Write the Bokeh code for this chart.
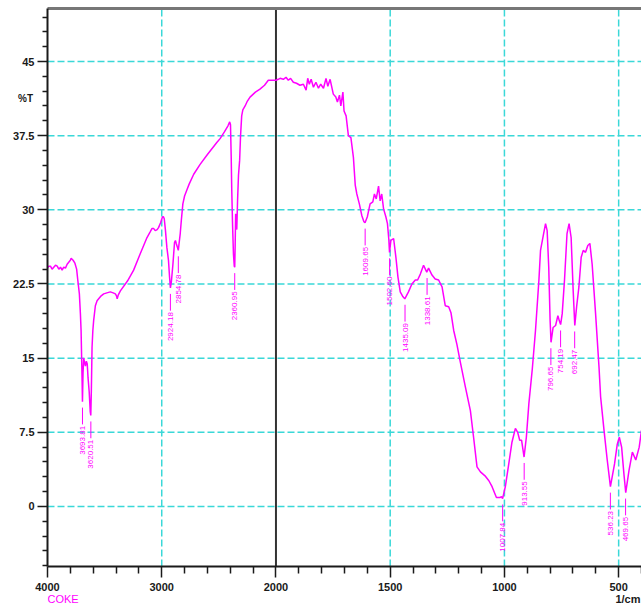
import numpy as np
from bokeh.plotting import figure
from bokeh.models import (FixedTicker, Range1d, ColumnDataSource, LinearAxis,
                          CustomJSTickFormatter)
from bokeh.core.properties import value
from bokeh.embed import file_html
from bokeh.resources import INLINE

# ---------------- data ----------------
wavenumber = [
    4000, 3988, 3974, 3960, 3945, 3930, 3915, 3901, 3886, 3872, 3858, 3843, 3828, 3814,
    3800, 3793, 3776, 3760, 3745, 3735, 3721, 3712, 3706, 3697, 3694, 3689, 3683, 3676,
    3668, 3660, 3652, 3645, 3635, 3626, 3621, 3616, 3610, 3603, 3596, 3581, 3566, 3552,
    3530, 3508, 3480, 3450, 3425, 3406, 3396, 3390, 3380, 3362, 3300, 3246, 3190, 3129,
    3100, 3086, 3070, 3057, 3040, 3028, 3010, 2993, 2985, 2978, 2968, 2955, 2941, 2932,
    2924, 2915, 2902, 2888, 2880, 2873, 2865, 2855, 2848, 2838, 2828, 2815, 2800, 2780,
    2760, 2720, 2664, 2600, 2518, 2489, 2450, 2420, 2405, 2398, 2392, 2387, 2380, 2372,
    2365, 2361, 2357, 2353, 2348, 2343, 2336, 2328, 2318, 2310, 2300, 2290, 2270, 2250,
    2227, 2180, 2140, 2100, 2067, 2024, 2000,
    1990, 1982, 1968, 1956, 1946, 1936, 1924, 1910, 1895, 1880, 1868, 1861, 1854, 1846,
    1836, 1825, 1814, 1804, 1792, 1781, 1773, 1763, 1749, 1738, 1731, 1722, 1716, 1707,
    1702, 1693, 1683, 1672, 1661, 1653, 1646, 1635, 1624, 1615, 1610, 1600, 1588, 1576,
    1569, 1561, 1551, 1544, 1537, 1529, 1519, 1512, 1506, 1503, 1497, 1485, 1475, 1466,
    1456, 1444, 1436, 1420, 1405, 1390, 1380, 1368, 1354, 1340, 1332, 1317, 1303, 1288,
    1273, 1259, 1244, 1234, 1222, 1208, 1193, 1171, 1149, 1135, 1120, 1105, 1085, 1068,
    1054, 1035, 1020, 1013, 1008, 996, 981, 967, 952, 942, 933, 925, 914, 904, 893, 878,
    864, 849, 842, 830, 820, 813, 806, 800, 796, 787, 776, 766, 760, 754, 747, 737, 726,
    717, 708, 699, 692, 684, 674, 664, 655, 645, 635, 626, 616, 601, 586, 579, 564, 550,
    536, 518, 506, 497, 487, 477, 469, 455, 440, 425, 410, 400,
]
transmittance = [
    24.1, 24.3, 24.3, 24.0, 24.2, 24.4, 24.3, 24.0, 24.2, 23.9, 24.2, 24.1, 24.5, 24.7,
    24.9, 25.1, 24.9, 24.6, 24.0, 22.9, 21.5, 19.5, 17.8, 12.7, 10.6, 13.5, 15.0, 14.6,
    14.2, 14.7, 14.4, 13.0, 11.6, 9.6, 9.2, 11.8, 16.1, 17.8, 18.8, 20.3, 20.8, 21.0,
    21.3, 21.5, 21.6, 21.7, 21.6, 21.5, 21.3, 21.0, 21.4, 21.8, 22.8, 23.9, 25.5, 27.2,
    27.8, 28.1, 28.1, 27.9, 28.0, 28.2, 28.7, 29.3, 29.3, 29.1, 28.0, 26.2, 24.9, 23.3,
    22.1, 22.8, 24.5, 26.7, 26.9, 26.6, 26.3, 25.9, 26.6, 27.6, 29.0, 30.6, 31.4, 32.0,
    32.6, 33.6, 34.6, 35.6, 36.8, 37.2, 37.9, 38.5, 38.9, 38.6, 35.5, 32.0, 28.5, 25.5,
    24.3, 24.2, 26.5, 29.6, 28.6, 28.0, 31.0, 33.5, 35.0, 37.5, 39.5, 40.1, 40.5, 41.0,
    41.4, 41.9, 42.2, 42.6, 43.1, 43.1, 43.1,
    43.2, 43.3, 43.2, 43.4, 43.1, 43.3, 42.9, 42.8, 42.6, 42.7, 42.1, 43.3, 42.7, 43.2,
    42.4, 42.9, 42.3, 42.7, 42.3, 43.3, 42.5, 43.2, 41.7, 41.4, 40.9, 41.6, 40.5, 41.9,
    40.0, 39.5, 37.5, 37.3, 35.3, 32.5, 31.6, 30.6, 29.4, 28.8, 28.7, 29.3, 30.6, 30.8,
    31.6, 31.1, 32.4, 30.9, 31.6, 30.1, 29.3, 28.6, 27.0, 25.7, 26.9, 27.1, 25.2, 23.2,
    21.7, 21.2, 21.0, 21.7, 22.5, 22.9, 22.9, 23.5, 24.4, 23.7, 24.1, 23.4, 23.0, 22.9,
    22.2, 20.3, 20.2, 19.6, 17.8, 16.4, 14.6, 12.1, 9.7, 7.0, 4.0, 3.5, 3.1, 2.6,
    2.0, 0.9, 0.9, 1.0, 0.8, 2.0, 4.3, 6.5, 7.9, 7.5, 6.7, 6.7, 5.0, 7.0, 10.4, 13.9,
    17.8, 22.9, 25.9, 27.4, 28.6, 27.9, 24.2, 18.8, 16.6, 18.1, 18.3, 19.3, 18.8, 18.4, 19.5, 22.9, 27.6,
    28.6, 27.2, 21.8, 18.3, 20.2, 22.2, 25.2, 25.9, 25.7, 26.4, 26.6, 24.5, 19.5, 14.1, 11.1, 7.7, 4.7,
    2.0, 4.3, 6.3, 7.0, 6.0, 3.3, 1.4, 3.6, 5.5, 4.7, 6.0, 7.7,
]

peak_wavenumber = [3693.81, 3620.51, 2924.18, 2854.78, 2360.95, 1609.65, 1502.60,
                   1435.09, 1338.61, 1007.84, 913.55, 796.65, 754.19, 692.47, 536.23, 469.65]
peak_transmittance = [10.6, 9.2, 22.1, 25.9, 24.2, 28.7, 25.7, 21.0, 23.7, 0.8, 5.0,
                      16.6, 18.4, 18.3, 2.0, 1.4]

x_tick_values = [4000, 3000, 2000, 1500, 1000, 500]
x_minor_values = [3800, 3600, 3400, 3200, 2800, 2600, 2400, 2200,
                  1900, 1800, 1700, 1600, 1400, 1300, 1200, 1100,
                  900, 800, 700, 600, 400]
x_grid_values = [3000, 1500, 1000, 500]
y_tick_values = [0, 7.5, 15, 22.5, 30, 37.5, 45]
y_minor_values = [-6, -4.5, -3, -1.5, 1.5, 3, 4.5, 6, 9, 10.5, 12, 13.5, 16.5, 18, 19.5,
                  21, 24, 25.5, 27, 28.5, 31.5, 33, 34.5, 36, 39, 40.5, 42, 43.5,
                  46.5, 48, 49.5]

sample_name = "COKE"
x_unit = "1/cm"
y_unit = "%T"

W_START, W_END, W_BREAK = 4000.0, 400.0, 2000.0
T_BOTTOM, T_TOP = -6.07, 50.36


# ---------------- broken wavenumber scale (4000-2000 at half scale) ----------------
def axis_pos(w):
    w = np.asarray(w, dtype=float)
    return np.where(w >= W_BREAK, (W_START - w) / 2.0,
                    (W_START - W_BREAK) / 2.0 + (W_BREAK - w))


MAGENTA = "#ff00ff"
CYAN = "#3ad8d8"
INK = "#1a1a1a"
FONT = "Liberation Sans"

# canvas geometry (pixels) -> ranges so that all texts sit inside the frame
FIG_W, FIG_H = 641, 608
PLOT_L, PLOT_R, PLOT_T, PLOT_B = 47, 641, 8, 566
x_lo, x_hi = float(axis_pos(W_START)), float(axis_pos(W_END))
u_per_px = (x_hi - x_lo) / (PLOT_R - PLOT_L)
t_per_px = (T_TOP - T_BOTTOM) / (PLOT_B - PLOT_T)

p = figure(width=FIG_W, height=FIG_H, output_backend="svg", toolbar_location=None,
           x_range=Range1d(x_lo - PLOT_L * u_per_px, x_hi + (FIG_W - PLOT_R) * u_per_px),
           y_range=Range1d(T_BOTTOM - (FIG_H - PLOT_B) * t_per_px, T_TOP + PLOT_T * t_per_px),
           x_axis_location=None, y_axis_location=None, min_border=0)
p.outline_line_color = None
p.background_fill_color = "white"
p.border_fill_color = "white"
p.grid.visible = False

# dashed grid
gx = axis_pos(x_grid_values)
p.segment(x0=gx, y0=[T_BOTTOM] * len(gx), x1=gx, y1=[T_TOP] * len(gx),
          line_color=CYAN, line_width=1.5, line_dash="7 3")
p.segment(x0=[x_lo] * len(y_tick_values), y0=y_tick_values,
          x1=[x_hi] * len(y_tick_values), y1=y_tick_values,
          line_color=CYAN, line_width=1.5, line_dash="7 3")

# scale-change marker at 2000 and the top border
p.segment(x0=[float(axis_pos(W_BREAK))], y0=[T_BOTTOM], x1=[float(axis_pos(W_BREAK))],
          y1=[T_TOP], line_color="#333333", line_width=2)
p.segment(x0=[x_lo], y0=[T_TOP], x1=[x_hi], y1=[T_TOP], line_color="#777777", line_width=3)

# spectrum
src = ColumnDataSource(dict(x=axis_pos(wavenumber), y=transmittance))
p.line("x", "y", source=src, line_color=MAGENTA, line_width=1.5)

# peak markers and labels
pk_x = axis_pos(peak_wavenumber)
pk_t = np.asarray(peak_transmittance)
pk_src = ColumnDataSource(dict(x=pk_x, y0=pk_t - 0.6, y1=pk_t - 2.3, yt=pk_t - 2.45,
                               label=[f"{w:.2f}" for w in peak_wavenumber]))
p.segment(x0="x", y0="y0", x1="x", y1="y1", source=pk_src, line_color=MAGENTA, line_width=1)
p.text(x="x", y="yt", text="label", source=pk_src, angle=np.pi / 2,
       text_align="right", text_baseline="middle", text_color=MAGENTA,
       text_font=value(FONT), text_font_size="8px")

# axes drawn at the plot-area edges
xaxis = LinearAxis(fixed_location=T_BOTTOM, bounds=(x_lo, x_hi),
                   ticker=FixedTicker(ticks=[float(v) for v in axis_pos(x_tick_values)],
                                      minor_ticks=[float(v) for v in axis_pos(x_minor_values)]),
                   formatter=CustomJSTickFormatter(
                       code="return (tick <= 1000 ? 4000 - 2*tick : 2000 - (tick - 1000)).toFixed(0);"))
yaxis = LinearAxis(fixed_location=x_lo, bounds=(T_BOTTOM, T_TOP),
                   ticker=FixedTicker(ticks=y_tick_values, minor_ticks=y_minor_values),
                   formatter=CustomJSTickFormatter(code="return String(tick);"))
for ax in (xaxis, yaxis):
    ax.axis_line_color = INK
    ax.axis_line_width = 2
    ax.major_tick_line_color = INK
    ax.minor_tick_line_color = INK
    ax.major_tick_line_width = 1.5
    ax.minor_tick_line_width = 1.5
    ax.major_tick_in = 0
    ax.minor_tick_in = 0
    ax.major_label_text_font = FONT
    ax.major_label_text_font_style = "bold"
    ax.major_label_text_font_size = "11px"
    ax.major_label_text_color = INK
xaxis.major_tick_out = 11
xaxis.minor_tick_out = 7
xaxis.major_label_standoff = 5
yaxis.major_tick_out = 10
yaxis.minor_tick_out = 5
yaxis.major_label_standoff = 3
p.add_layout(xaxis, "below")
p.add_layout(yaxis, "left")

# unit labels and sample name
p.text(x=[x_lo - 22 * u_per_px], y=[41.3], text=[y_unit], text_align="center",
       text_baseline="middle", text_font=value(FONT), text_font_style="bold",
       text_font_size="10px", text_color=INK)
p.text(x=[x_lo], y=[T_BOTTOM - 32 * t_per_px], text=[sample_name], text_align="left",
       text_baseline="middle", text_font=value(FONT), text_font_size="11px",
       text_color=MAGENTA)
p.text(x=[x_hi - 1 * u_per_px], y=[T_BOTTOM - 32 * t_per_px], text=[x_unit],
       text_align="right", text_baseline="middle", text_font=value(FONT),
       text_font_style="bold", text_font_size="11px", text_color=INK)

open("out.html", "w").write(file_html(p, INLINE))
